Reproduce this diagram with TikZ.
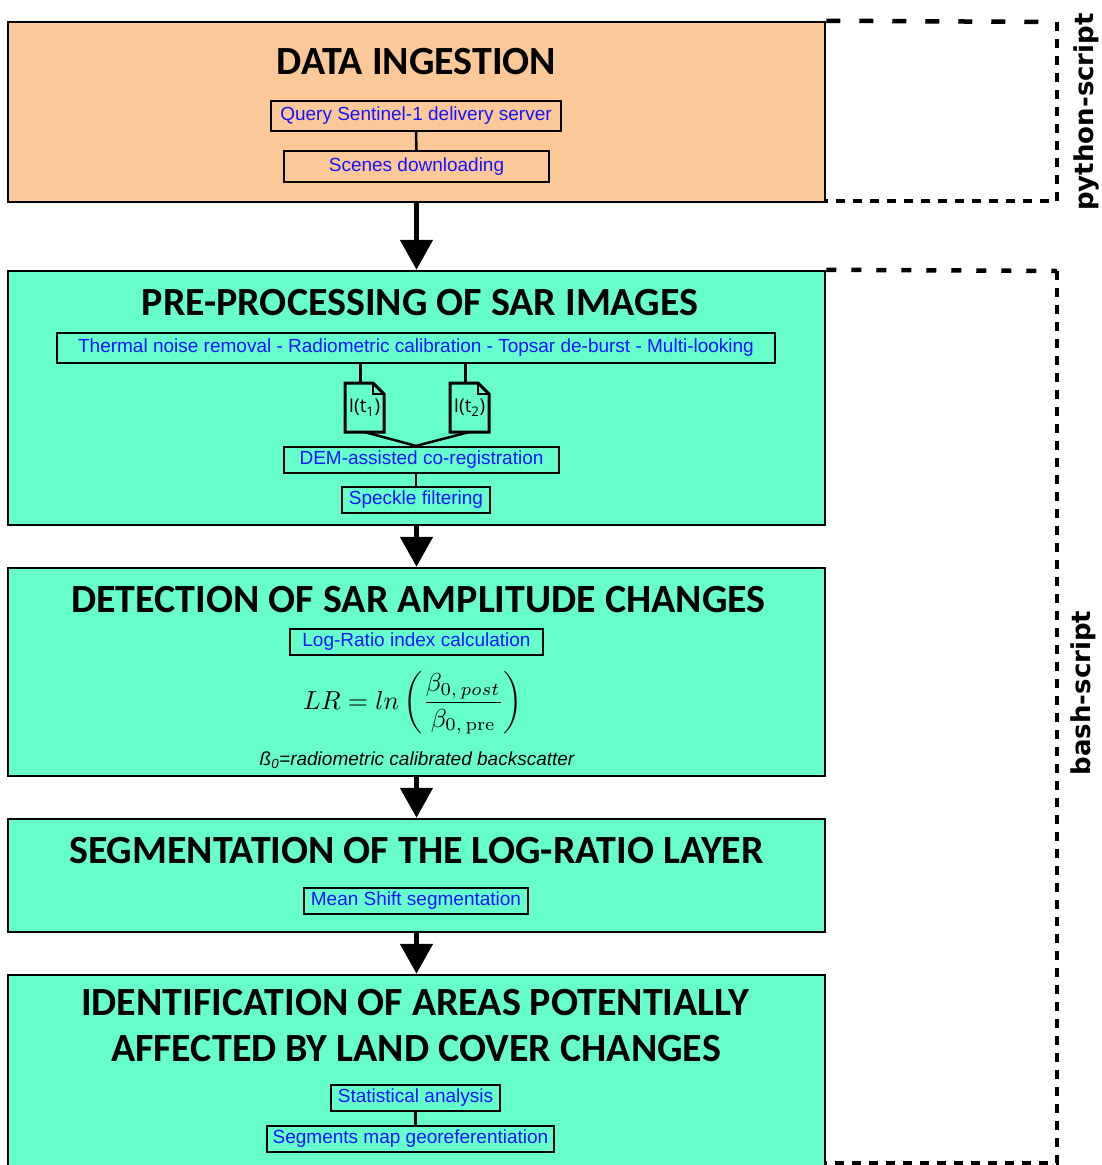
\documentclass[tikz,border=0pt]{standalone}
\usepackage{amsmath}
\usepackage{graphicx}
\usepackage[no-math]{fontspec}
\setmainfont{Liberation Sans}
\newfontfamily\titlefont{Carlito}
\newfontfamily\docfont{Open Sans}
\newfontfamily\labfont{DejaVu Sans}
\usetikzlibrary{arrows.meta,calc}
\definecolor{peach}{RGB}{251,200,152}
\definecolor{aqua}{RGB}{102,255,204}
\definecolor{sblue}{RGB}{20,20,255}
\tikzset{
  bigbox/.style={draw=black, line width=2.5pt, minimum width=817pt, inner sep=0pt},
  titletext/.style={font=\titlefont\bfseries\fontsize{40}{46}\selectfont, inner sep=0pt},
  subbox/.style={draw=black, line width=2.2pt, inner sep=0pt, text=sblue, font=\fontsize{19}{22}\selectfont},
  conn/.style={draw=black, line width=2.5pt},
  bigarrow/.style={draw=black, line width=5pt, -{Triangle[width=32pt,length=30pt]}},
  dashline/.style={draw=black, line width=4.5pt, dash pattern=on 9pt off 8pt},
  docnode/.style={minimum width=39pt, minimum height=49pt, inner sep=0pt, outer sep=0pt, font=\docfont\fontsize{19}{21}\selectfont},
  docline/.style={draw=black, line width=3pt, line join=miter},
  sidelabel/.style={rotate=90, font=\labfont\bfseries\fontsize{26}{30}\selectfont, inner sep=0pt}
}
\begin{document}
\begin{tikzpicture}[x=1pt,y=-1pt]
\useasboundingbox (0,0) rectangle (1102,1165);
% main boxes
\node[bigbox, fill=peach, minimum height=180pt] (b1) at (416.5,112) {};
\node[bigbox, fill=aqua, minimum height=254pt] (b2) at (416.5,398) {};
\node[bigbox, fill=aqua, minimum height=208pt] (b3) at (416.5,672) {};
\node[bigbox, fill=aqua, minimum height=113pt] (b4) at (416.5,875.5) {};
\node[bigbox, fill=aqua, minimum height=200pt] (b5) at (416.5,1075) {};
% titles
\node[titletext] (t1) at (416.5,62) {DATA INGESTION};
\node[titletext] (t2) at (420,303) {PRE-PROCESSING OF SAR IMAGES};
\node[titletext] (t3) at (418.5,600) {DETECTION OF SAR AMPLITUDE CHANGES};
\node[titletext] (t4) at (416.5,851) {SEGMENTATION OF THE LOG-RATIO LAYER};
\node[titletext] (t5a) at (415,1003) {IDENTIFICATION OF AREAS POTENTIALLY};
\node[titletext] (t5b) at (416,1049) {AFFECTED BY LAND COVER CHANGES};
% sub boxes
\node[subbox, minimum width=290pt, minimum height=30pt] (q) at (416,116) {Query Sentinel-1 delivery server};
\node[subbox, minimum width=265pt, minimum height=31pt] (s) at (416.5,166.5) {Scenes downloading};
\node[subbox, minimum width=718pt, minimum height=30pt] (m) at (416,348) {Thermal noise removal - Radiometric calibration - Topsar de-burst - Multi-looking};
\node[subbox, minimum width=275pt, minimum height=26pt] (dem) at (421.5,460) {DEM-assisted co-registration};
\node[subbox, minimum width=148pt, minimum height=26pt] (sp) at (416,500) {Speckle filtering};
\node[subbox, minimum width=253pt, minimum height=26pt] (lr) at (416.5,642) {Log-Ratio index calculation};
\node[subbox, minimum width=224pt, minimum height=26pt] (ms) at (416,901) {Mean Shift segmentation};
\node[subbox, minimum width=169pt, minimum height=26pt] (st) at (415.5,1098) {Statistical analysis};
\node[subbox, minimum width=287pt, minimum height=26pt] (sg) at (410.5,1139) {Segments map georeferentiation};
% documents
\node[docnode] (d1) at (364.5,407.5) {I(t\textsubscript{1})};
\node[docnode] (d2) at (469.5,407.5) {I(t\textsubscript{2})};
\foreach \d in {d1,d2}{
  \draw[docline] (\d.south west) -- (\d.north west) -- ([xshift=-11pt]\d.north east) -- ([yshift=-11pt]\d.north east) -- (\d.south east) -- cycle;
  \draw[draw=black, line width=2pt] ([xshift=-11pt]\d.north east) -- ([xshift=-11pt,yshift=-11pt]\d.north east) -- ([yshift=-11pt]\d.north east);
}
% formula and caption
\node[inner sep=0pt] (f) at (413,703) {\scalebox{2.6}{$LR = ln\left(\dfrac{\beta_{0,\,post}}{\beta_{0,\,\mathrm{pre}}}\right)$}};
\node[inner sep=0pt, font=\fontsize{19}{22}\selectfont\itshape] (cap) at (417,760) {ß\textsubscript{0}=radiometric calibrated backscatter};
% internal connectors
\draw[conn] (q.south) -- (s.north);
\draw[conn] ([xshift=-4pt]d1.north) -- ([xshift=-4pt]d1.north |- m.south);
\draw[conn] ([xshift=-4pt]d2.north) -- ([xshift=-4pt]d2.north |- m.south);
\coordinate (meet) at (sp.north |- dem.north);
\draw[conn] (d1.south) -- (meet) -- (d2.south);
\draw[conn] (dem.south -| sp.north) -- (sp.north);
\draw[conn] (st.south) -- (st.south |- sg.north);
% flow arrows
\draw[bigarrow] (b1.south) -- (b2.north);
\draw[bigarrow] (b2.south) -- (b3.north);
\draw[bigarrow] (b3.south) -- (b4.north);
\draw[bigarrow] (b4.south) -- (b5.north);
% script brackets
\coordinate (p1) at (1057,22);
\coordinate (p2) at (1057,201);
\draw[dashline, dash pattern=on 14pt off 19pt] (b1.north east) -- (p1);
\draw[dashline] (p1) -- (p2) -- (p2 -| b1.east);
\coordinate (r1) at (1057,271);
\coordinate (r2) at (1057,1163);
\draw[dashline, dash pattern=on 10pt off 15pt] (b2.north east) -- (r1);
\draw[dashline] (r1) -- (r2) -- (r2 -| b5.east);
\node[sidelabel] (py) at (1086,112) {python-script};
\node[sidelabel] (bs) at (1083,693) {bash-script};
\end{tikzpicture}
\end{document}
